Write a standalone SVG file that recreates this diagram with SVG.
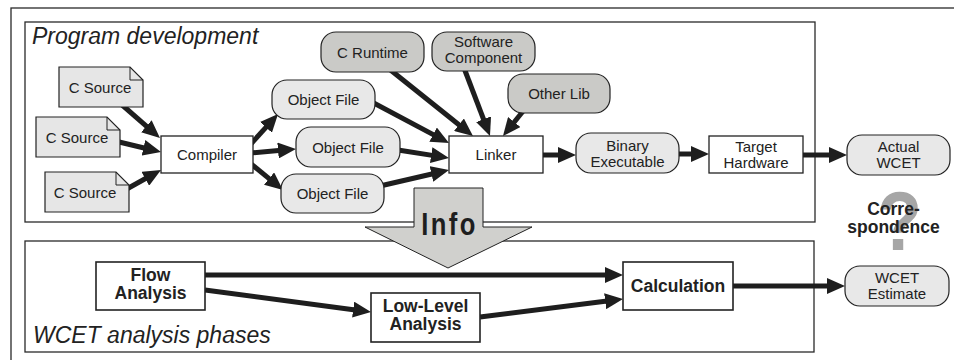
<svg xmlns="http://www.w3.org/2000/svg" width="954" height="360" viewBox="0 0 954 360">
<defs>
<marker id="ah" markerUnits="userSpaceOnUse" markerWidth="18" markerHeight="16" refX="6" refY="8" orient="auto">
<path d="M0,0 L18,8 L0,16 Z" fill="#1e1e1e"/>
</marker>
<style>
.frame{fill:none;stroke:#2a2a2a;stroke-width:1.3}
.box{fill:#fff;stroke:#222;stroke-width:1.3}
.bbox{fill:#fff;stroke:#222;stroke-width:1.6}
.note{fill:#e6e6e6;stroke:#222;stroke-width:1.2}
.lt{fill:#e8e8e8;stroke:#222;stroke-width:1.2}
.dk{fill:#cacac7;stroke:#222;stroke-width:1.2}
.t{font-family:"Liberation Sans",Arial,sans-serif;font-size:15px;fill:#222;text-anchor:middle}
.tb{font-family:"Liberation Sans",Arial,sans-serif;font-size:17.5px;font-weight:bold;fill:#222;text-anchor:middle}
.title{font-family:"Liberation Sans",Arial,sans-serif;font-size:23px;font-style:italic;fill:#222}
.c{fill:none;stroke:#1e1e1e;stroke-width:5;marker-end:url(#ah)}
</style>
</defs>
<rect width="954" height="360" fill="#fff"/>
<rect class="frame" x="11" y="8" width="980" height="400" stroke-width="1.8"/>
<g id="program-development">
<rect class="frame" x="25" y="22" width="790" height="200"/>
<text class="title" x="32" y="44">Program development</text>
</g>
<g id="wcet-analysis-phases">
<rect class="frame" x="25" y="241" width="789" height="111"/>
<text class="title" x="33" y="343">WCET analysis phases</text>
</g>
<g id="connectors">
<path class="c" d="M121,104 L150.9,130.1"/>
<path class="c" d="M115,141 L149.3,149.2"/>
<path class="c" d="M125,190 L150.5,175.8"/>
<path class="c" d="M250,145 L270,122.9"/>
<path class="c" d="M250,153 L284,150"/>
<path class="c" d="M250,163 L273.7,182.4"/>
<path class="c" d="M370,101 L438.4,137.4"/>
<path class="c" d="M398,150 L437.1,156.1"/>
<path class="c" d="M380,186 L437.3,172.7"/>
<path class="c" d="M388,68 L463.6,128.5"/>
<path class="c" d="M464,68 L485.7,124.8"/>
<path class="c" d="M524,110 L510.5,126.7"/>
<path class="c" d="M543,155 L564,155"/>
<path class="c" d="M679,154 L697,154"/>
<path class="c" d="M803,155 L835,155"/>
<path class="c" d="M205,275 L611,275"/>
<path class="c" d="M205,290 L359.1,310.4"/>
<path class="c" d="M480,317 L611.1,300.5"/>
<path class="c" d="M733,286 L833,286"/>
</g>
<g id="c-source-1">
<path class="note" d="M59,67 H130 L143,80 V107 H59 Z"/>
<path d="M130,67 V80 H143" fill="none" stroke="#222" stroke-width="1"/>
<text class="t" x="100" y="93">C Source</text>
</g>
<g id="c-source-2">
<path class="note" d="M36,117 H107 L120,130 V157 H36 Z"/>
<path d="M107,117 V130 H120" fill="none" stroke="#222" stroke-width="1"/>
<text class="t" x="77" y="143">C Source</text>
</g>
<g id="c-source-3">
<path class="note" d="M45,172 H116 L129,185 V212 H45 Z"/>
<path d="M116,172 V185 H129" fill="none" stroke="#222" stroke-width="1"/>
<text class="t" x="85" y="198">C Source</text>
</g>
<g id="compiler">
<rect class="box" x="161" y="136" width="92" height="37"/>
<text class="t" x="207" y="160">Compiler</text>
</g>
<g id="object-file-1">
<rect class="lt" x="272" y="80" width="103" height="39" rx="15"/>
<text class="t" x="323.5" y="105">Object File</text>
</g>
<g id="object-file-2">
<rect class="lt" x="296" y="127" width="104" height="40" rx="15"/>
<text class="t" x="348" y="152.5">Object File</text>
</g>
<g id="object-file-3">
<rect class="lt" x="281" y="174" width="103" height="39" rx="15"/>
<text class="t" x="332.5" y="199">Object File</text>
</g>
<g id="c-runtime">
<rect class="dk" x="321" y="32" width="103" height="40" rx="15"/>
<text class="t" x="372.5" y="57.5">C Runtime</text>
</g>
<g id="software-component">
<rect class="dk" x="432" y="32" width="103" height="39" rx="15"/>
<text class="t" x="483.5" y="47">Software</text>
<text class="t" x="483.5" y="63">Component</text>
</g>
<g id="other-lib">
<rect class="dk" x="508" y="74" width="102" height="39" rx="15"/>
<text class="t" x="559" y="99">Other Lib</text>
</g>
<g id="linker">
<rect class="box" x="449" y="136" width="94" height="37"/>
<text class="t" x="496" y="160">Linker</text>
</g>
<g id="binary-executable">
<rect class="lt" x="576" y="133" width="103" height="40" rx="15"/>
<text class="t" x="627.5" y="151">Binary</text>
<text class="t" x="627.5" y="167">Executable</text>
</g>
<g id="target-hardware">
<rect class="box" x="709" y="136" width="94" height="37"/>
<text class="t" x="756" y="152">Target</text>
<text class="t" x="756" y="168">Hardware</text>
</g>
<g id="actual-wcet">
<rect class="lt" x="847" y="135" width="103" height="40" rx="15"/>
<text class="t" x="898.5" y="152">Actual</text>
<text class="t" x="898.5" y="168">WCET</text>
</g>
<g id="info">
<polygon points="414,188 483,188 483,227 532,227 448,268 365,227 414,227" fill="#d0d0cd" stroke="#222" stroke-width="1"/>
<text transform="translate(449.5,235) scale(0.8,1)" x="0" y="0" font-family="'Liberation Sans',Arial,sans-serif" font-size="32" font-weight="bold" letter-spacing="3" fill="#1e1e1e" text-anchor="middle">Info</text>
</g>
<g id="correspondence">
<text transform="translate(899.5,250) scale(0.87,1)" font-family="'Liberation Sans',Arial,sans-serif" font-size="84" font-weight="bold" fill="#a6a6a6" text-anchor="middle">?</text>
<text class="tb" x="893.5" y="215">Corre-</text>
<text class="tb" x="893.5" y="233">spondence</text>
</g>
<g id="flow-analysis">
<rect class="bbox" x="96" y="262" width="109" height="48"/>
<text class="tb" x="150.5" y="281">Flow</text>
<text class="tb" x="150.5" y="299">Analysis</text>
</g>
<g id="low-level-analysis">
<rect class="bbox" x="371" y="293" width="109" height="49"/>
<text class="tb" x="425.5" y="312">Low-Level</text>
<text class="tb" x="425.5" y="330">Analysis</text>
</g>
<g id="calculation">
<rect class="bbox" x="623" y="262" width="110" height="48"/>
<text class="tb" x="678" y="292">Calculation</text>
</g>
<g id="wcet-estimate">
<rect class="lt" x="845" y="266" width="104" height="40" rx="15"/>
<text class="t" x="897" y="283">WCET</text>
<text class="t" x="897" y="299">Estimate</text>
</g>
</svg>
